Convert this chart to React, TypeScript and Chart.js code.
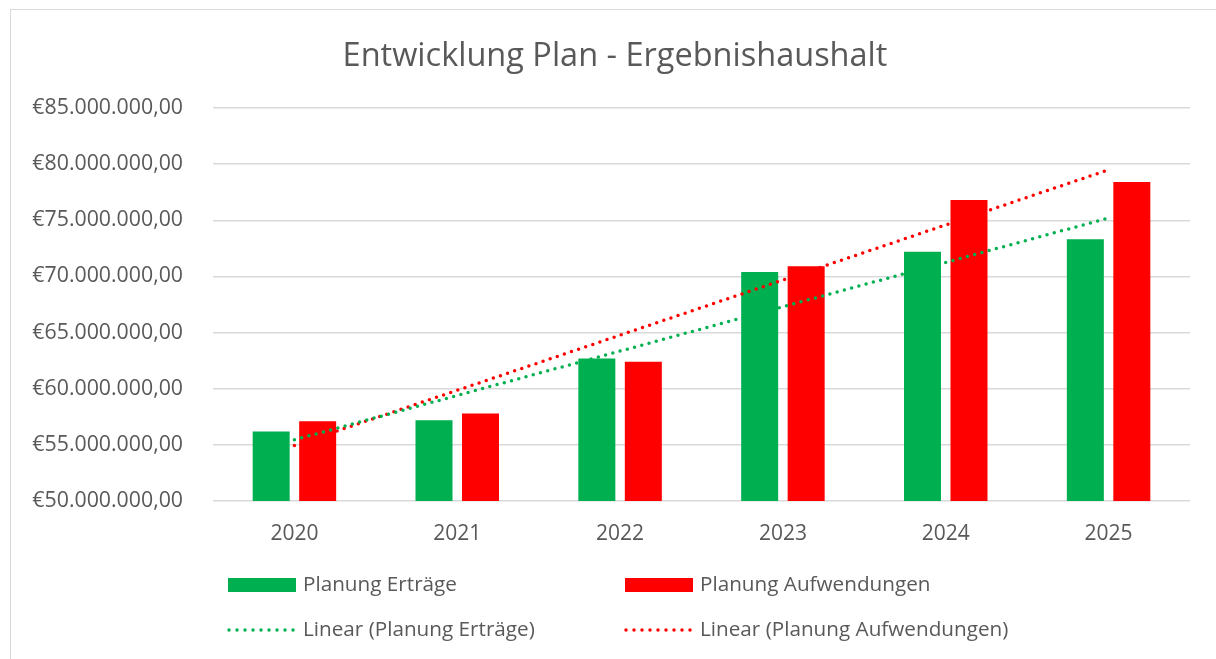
import { useEffect, useRef } from "react";
import { Chart, registerables } from "chart.js";

Chart.register(...registerables);

const years = ["2020", "2021", "2022", "2023", "2024", "2025"];
const planungErtraege = [56200000, 57200000, 62700000, 70400000, 72200000, 73300000];
const planungAufwendungen = [57100000, 57800000, 62400000, 70900000, 76800000, 78400000];
// trendline end points (straight line drawn between them)
const linearErtraege = [55450000, null, null, null, null, 75200000];
const linearAufwendungen = [54950000, null, null, null, null, 79500000];

const titleText = "Entwicklung Plan - Ergebnishaushalt";
const legendLabels = [
  "Planung Erträge",
  "Planung Aufwendungen",
  "Linear (Planung Erträge)",
  "Linear (Planung Aufwendungen)",
];

const GREEN = "#00B050";
const RED = "#FF0000";
const TEXT = "#595959";
const GRID = "#D9D9D9";
const FONT = "'Open Sans', 'Noto Sans', sans-serif";

function formatEuro(v: number): string {
  const intPart = Math.round(v).toString().replace(/\B(?=(\d{3})+(?!\d))/g, ".");
  return "€" + intPart + ",00";
}

const decorPlugin = {
  id: "decor",
  beforeDraw(chart: any) {
    const ctx = chart.ctx;
    ctx.save();
    ctx.fillStyle = "#ffffff";
    ctx.fillRect(0, 0, chart.width, chart.height);
    ctx.strokeStyle = GRID;
    ctx.lineWidth = 1;
    ctx.strokeRect(10.5, 9.5, chart.width + 20, chart.height + 20);
    ctx.restore();
  },
  afterDraw(chart: any) {
    const ctx = chart.ctx;
    ctx.save();
    // title
    ctx.fillStyle = TEXT;
    ctx.font = `32.5px ${FONT}`;
    ctx.textAlign = "center";
    ctx.textBaseline = "alphabetic";
    ctx.fillText(titleText, 615, 66);

    // legend
    const cols = [228, 625];
    const rows = [585, 630];
    const colors = [GREEN, RED, GREEN, RED];
    ctx.font = `20.7px ${FONT}`;
    ctx.textAlign = "left";
    ctx.textBaseline = "middle";
    for (let i = 0; i < 4; i++) {
      const x = cols[i % 2];
      const y = rows[Math.floor(i / 2)];
      ctx.fillStyle = colors[i];
      ctx.strokeStyle = colors[i];
      if (i < 2) {
        ctx.fillRect(x, y - 7, 68, 14);
      } else {
        ctx.beginPath();
        ctx.lineWidth = 3.5;
        ctx.lineCap = "round";
        ctx.setLineDash([0, 8]);
        ctx.moveTo(x + 1, y);
        ctx.lineTo(x + 66, y);
        ctx.stroke();
        ctx.setLineDash([]);
      }
      ctx.fillStyle = TEXT;
      ctx.fillText(legendLabels[i], x + 75, y);
    }
    ctx.restore();
  },
};

export default function App() {
  const canvasRef = useRef<HTMLCanvasElement | null>(null);

  useEffect(() => {
    if (!canvasRef.current) return;
    const chart = new Chart(canvasRef.current, {
      type: "bar",
      data: {
        labels: years,
        datasets: [
          {
            type: "line",
            label: legendLabels[2],
            data: linearErtraege,
            borderColor: GREEN,
            borderWidth: 3.5,
            borderDash: [0, 7.5],
            borderCapStyle: "round",
            pointRadius: 0,
            spanGaps: true,
            fill: false,
            order: 0,
          } as any,
          {
            type: "line",
            label: legendLabels[3],
            data: linearAufwendungen,
            borderColor: RED,
            borderWidth: 3.5,
            borderDash: [0, 7.5],
            borderCapStyle: "round",
            pointRadius: 0,
            spanGaps: true,
            fill: false,
            order: 0,
          } as any,
          {
            type: "bar",
            label: legendLabels[0],
            data: planungErtraege,
            backgroundColor: GREEN,
            categoryPercentage: 0.571,
            barPercentage: 0.796,
            order: 1,
          },
          {
            type: "bar",
            label: legendLabels[1],
            data: planungAufwendungen,
            backgroundColor: RED,
            categoryPercentage: 0.571,
            barPercentage: 0.796,
            order: 1,
          },
        ],
      },
      options: {
        animation: false,
        responsive: false,
        layout: { padding: { top: 108, right: 26, bottom: 100, left: 0 } },
        plugins: {
          legend: { display: false },
          title: { display: false },
          tooltip: { enabled: false },
        },
        scales: {
          x: {
            grid: { display: false },
            border: { display: false },
            ticks: { color: TEXT, font: { family: FONT, size: 21 }, padding: 12 },
            afterFit(scale: any) {
              scale.height = 659 - 100 - 501;
            },
          },
          y: {
            min: 50000000,
            max: 85000000,
            ticks: {
              stepSize: 5000000,
              color: TEXT,
              font: { family: FONT, size: 21.3 },
              padding: 30,
              callback: (v: any) => formatEuro(Number(v)),
            },
            grid: { color: GRID, lineWidth: 1.5, drawTicks: false },
            border: { display: false },
            afterFit(scale: any) {
              scale.width = 213;
            },
          },
        },
      },
      plugins: [decorPlugin],
    });
    return () => chart.destroy();
  }, []);

  return (
    <div style={{ position: "absolute", left: 0, top: 0, width: 1216, height: 659 }}>
      <canvas ref={canvasRef} width={1216} height={659} style={{ display: "block" }} />
    </div>
  );
}
